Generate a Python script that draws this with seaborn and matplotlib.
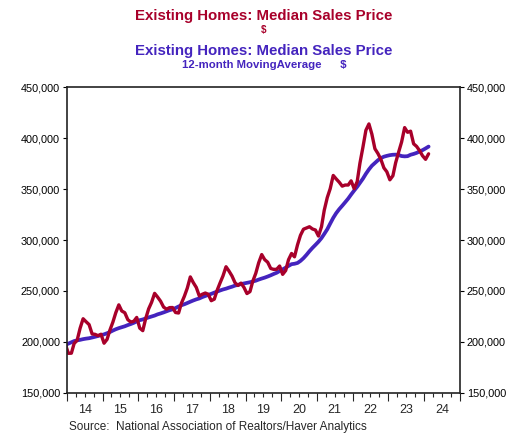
import matplotlib
matplotlib.use("Agg")
import matplotlib.pyplot as plt
import matplotlib.dates as mdates
import matplotlib.ticker as mticker
import matplotlib.transforms as mtransforms
import pandas as pd
import seaborn as sns

# monthly median existing-home sales price, $ thousands, Dec 2013 .. Feb 2024
median_price = [
    198.0,
    188.9, 189.0, 198.5, 201.7, 213.4, 222.8, 219.9, 217.1, 207.9, 207.5, 206.2, 207.6,
    198.8, 202.6, 211.4, 219.4, 228.7, 236.4, 230.4, 228.7, 221.9, 219.6, 220.3, 224.1,
    213.6, 211.1, 222.7, 232.5, 238.9, 247.7, 244.1, 240.0, 234.2, 232.2, 233.7, 233.8,
    228.9, 228.4, 237.8, 244.8, 252.8, 263.8, 258.3, 253.5, 245.1, 246.8, 248.0, 246.8,
    240.5, 242.0, 250.4, 257.9, 264.8, 273.8, 269.6, 264.7, 258.1, 255.4, 257.7, 253.6,
    247.5, 249.4, 259.4, 267.3, 277.7, 285.7, 280.8, 278.2, 272.1, 271.2, 271.3, 274.5,
    266.3, 270.1, 280.7, 286.8, 283.5, 295.3, 304.6, 310.6, 311.8, 313.0, 310.8, 309.8,
    303.9, 313.0, 329.1, 341.6, 350.3, 363.3, 359.9, 356.7, 352.8, 353.9, 353.9, 358.0,
    350.3, 357.3, 375.3, 391.2, 407.6, 413.8, 403.8, 389.5, 384.8, 379.1, 370.7, 366.9,
    359.0, 363.0, 375.7, 386.3, 396.1, 410.2, 405.6, 406.7, 394.3, 391.8, 387.6, 382.6,
    379.1, 384.5,
]

# 12-month moving average, $ thousands, same months
moving_avg = [
    197.1,
    198.4, 199.7, 200.9, 201.6, 202.1, 202.8, 203.3, 203.7, 204.4, 205.1, 205.9, 206.7,
    207.5, 208.6, 209.7, 211.2, 212.5, 213.6, 214.5, 215.4, 216.6, 217.6, 218.8, 220.2,
    221.4, 222.1, 223.1, 224.1, 225.0, 225.9, 227.1, 228.0, 229.0, 230.1, 231.2, 232.0,
    233.3, 234.8, 236.0, 237.0, 238.2, 239.5, 240.7, 241.8, 242.7, 244.0, 245.1, 246.2,
    247.2, 248.4, 249.4, 250.5, 251.5, 252.3, 253.3, 254.2, 255.3, 256.0, 256.8, 257.4,
    258.0, 258.6, 259.3, 260.1, 261.2, 262.2, 263.1, 264.2, 265.4, 266.7, 267.9, 269.6,
    271.2, 272.9, 274.6, 276.3, 276.7, 277.5, 279.5, 282.2, 285.5, 289.0, 292.3, 295.2,
    298.3, 301.9, 305.9, 310.5, 316.1, 321.7, 326.3, 330.2, 333.6, 337.0, 340.6, 344.6,
    348.5, 352.2, 356.0, 360.2, 364.9, 369.2, 372.8, 375.5, 378.2, 380.3, 381.7, 382.5,
    383.2, 383.6, 383.7, 383.3, 382.3, 382.0, 382.2, 383.6, 384.4, 385.4, 386.8, 388.1,
    389.8, 391.6,
]

year_labels = ["14", "15", "16", "17", "18", "19", "20", "21", "22", "23", "24"]
y_ticks = [150000, 200000, 250000, 300000, 350000, 400000, 450000]

RED = "#A8002A"
BLUE = "#4424BE"

dates = pd.date_range("2013-12-01", periods=len(median_price), freq="MS") + pd.Timedelta(days=14)
df = pd.DataFrame({
    "date": dates,
    "price": [v * 1000 for v in median_price],
    "ma": [v * 1000 for v in moving_avg],
})

sns.set_style("ticks")
plt.rcParams["font.family"] = ["Liberation Sans", "DejaVu Sans"]

fig = plt.figure(figsize=(5.07, 4.34), dpi=100)
ax = fig.add_axes([0.1321, 0.0945, 0.7752, 0.705])

sns.lineplot(data=df, x="date", y="ma", color=BLUE, linewidth=2.7, ax=ax)
sns.lineplot(data=df, x="date", y="price", color=RED, linewidth=2.4, ax=ax)

ax.set_xlim(pd.Timestamp("2014-01-01"), pd.Timestamp("2025-01-01"))
ax.set_ylim(150000, 450000)
ax.set_xlabel("")
ax.set_ylabel("")

ax.set_yticks(y_ticks)
ax.yaxis.set_major_formatter(mticker.FuncFormatter(lambda v, p: f"{int(v):,}"))
ax.tick_params(axis="y", left=True, right=True, labelleft=True, labelright=True,
               direction="out", length=3, width=0.8, labelsize=7.8, pad=2, colors="black")

ax.xaxis.set_major_locator(mdates.YearLocator())
ax.xaxis.set_minor_locator(mdates.MonthLocator(bymonth=[4, 7, 10]))
ax.xaxis.set_major_formatter(mticker.NullFormatter())
ax.tick_params(axis="x", which="major", direction="out", length=6, width=0.8)
ax.tick_params(axis="x", which="minor", direction="out", length=3, width=0.8)

trans = mtransforms.blended_transform_factory(ax.transData, ax.transAxes)
for i, lab in enumerate(year_labels):
    xpos = mdates.date2num(pd.Timestamp(f"{2014 + i}-07-01"))
    ax.text(xpos, -0.037, lab, transform=trans, ha="center", va="top", fontsize=9)

for side in ["left", "right", "top", "bottom"]:
    ax.spines[side].set_visible(True)
    ax.spines[side].set_linewidth(1.2)
    ax.spines[side].set_color("#222222")

fig.text(0.52, 0.962, "Existing Homes: Median Sales Price", color=RED, ha="center",
         va="center", fontsize=10.8, fontweight="bold")
fig.text(0.52, 0.932, "$", color=RED, ha="center", va="center", fontsize=7,
         fontweight="bold")
fig.text(0.52, 0.882, "Existing Homes: Median Sales Price", color=BLUE, ha="center",
         va="center", fontsize=10.8, fontweight="bold")
fig.text(0.521, 0.851, "12-month MovingAverage      $", color=BLUE, ha="center",
         va="center", fontsize=8.2, fontweight="bold")

fig.text(0.137, 0.016, "Source:  National Association of Realtors/Haver Analytics",
         ha="left", va="center", fontsize=8.5)

fig.savefig("out.png", dpi=100)
